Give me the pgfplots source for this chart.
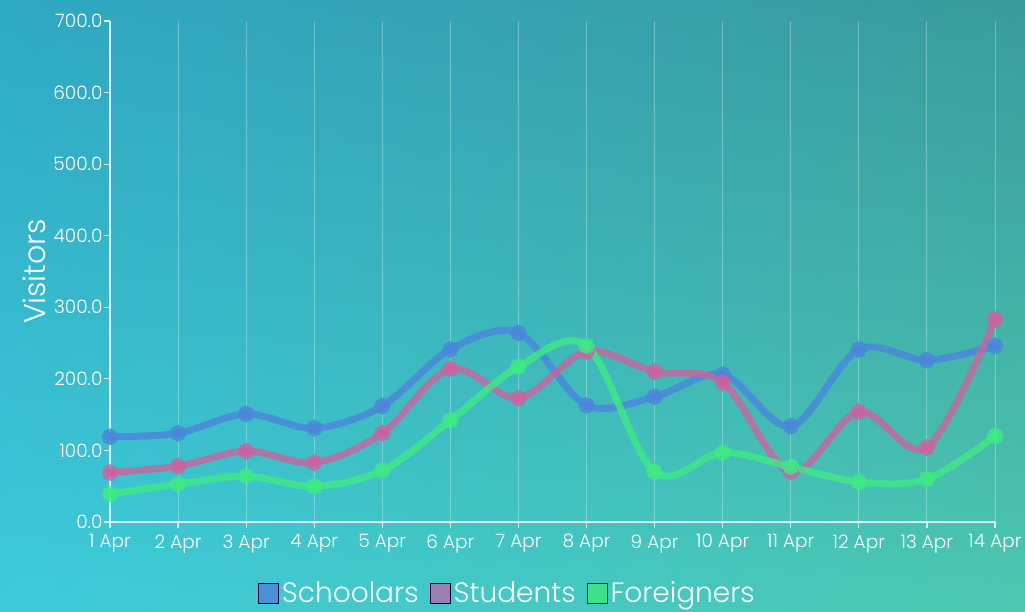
\documentclass[border=0pt]{standalone}
\usepackage{pgfplots}
\pgfplotsset{compat=1.18}
\usetikzlibrary{shadings}
\usepackage{fontspec}
\setmainfont{Poppins}[UprightFont=*-Light]
\pgfdeclarelayer{background}
\pgfsetlayers{background,main}
\definecolor{cTL}{HTML}{2FA8C4}
\definecolor{cTR}{HTML}{3A9B9C}
\definecolor{cBL}{HTML}{3CCBDB}
\definecolor{cBR}{HTML}{4CC8B0}
\definecolor{lblue}{HTML}{4A88DA}
\definecolor{mblue}{HTML}{4A7FE0}
\definecolor{lpink}{HTML}{C8659F}
\definecolor{mpink}{HTML}{E0509E}
\definecolor{lgreen}{HTML}{3FEA86}
\definecolor{mgreen}{HTML}{3CF07A}
\definecolor{legblue}{HTML}{4A90D9}
\definecolor{legpurple}{HTML}{9B7FB0}
\definecolor{leggreen}{HTML}{3FE08C}
\begin{document}
\begin{tikzpicture}
\begin{axis}[
  scale only axis,
  width=885pt, height=501pt,
  xmin=0, xmax=13, ymin=0, ymax=700,
  xtick={0,...,13},
  xticklabels={1 Apr,2 Apr,3 Apr,4 Apr,5 Apr,6 Apr,7 Apr,8 Apr,9 Apr,10 Apr,11 Apr,12 Apr,13 Apr,14 Apr},
  ytick={0,100,...,700},
  ticklabel style={font=\fontsize{18.5}{21}\selectfont, text=white},
  xticklabel style={yshift=-3pt},
  yticklabel style={xshift=2pt, /pgf/number format/.cd,fixed,fixed zerofill,precision=1,1000 sep={},assume math mode=true},
  axis x line*=bottom, axis y line*=left,
  axis line style={white!85!cyan, line width=1.6pt, -},
  tick style={white!85!cyan, line width=1.2pt},
  major tick length=6pt,
  tick align=outside,
  xtick pos=bottom, ytick pos=left,
  xmajorgrids=true, ymajorgrids=false,
  grid style={white, opacity=0.3, line width=0.9pt},
  ylabel={Visitors},
  ylabel style={font=\fontsize{30}{34}\selectfont, text=white, at={(axis description cs:-0.085,0.5)}, anchor=center},
  legend columns=3,
  legend style={at={(axis description cs:0.449,-0.142)}, anchor=center, draw=none, fill=none,
    font=\fontsize{28}{32}\selectfont, text=white,
    /tikz/every even column/.append style={column sep=9pt},
    /tikz/every odd column/.append style={column sep=1pt}},
  legend cell align=left,
  clip=false,
]
\addplot[lblue, opacity=0.85, line width=7pt, smooth, tension=0.55, mark=*, mark size=4.6pt, mark options={fill=mblue, draw=none}, forget plot]
coordinates {(0,119)(1,124)(2,151)(3,131)(4,162)(5,241)(6,264)(7,163)(8,175)(9,206)(10,134)(11,241)(12,226)(13,246)};
\addplot[lpink, opacity=0.8, line width=7pt, smooth, tension=0.55, mark=*, mark size=4.6pt, mark options={fill=mpink, draw=none}, forget plot]
coordinates {(0,69)(1,78)(2,99)(3,83)(4,124)(5,214)(6,173)(7,238)(8,210)(9,195)(10,70)(11,154)(12,104)(13,283)};
\addplot[lgreen, opacity=0.8, line width=7pt, smooth, tension=0.55, mark=*, mark size=4.6pt, mark options={fill=mgreen, draw=none}, forget plot]
coordinates {(0,39)(1,53)(2,64)(3,50)(4,72)(5,142)(6,217)(7,246)(8,70)(9,97)(10,77)(11,56)(12,60)(13,120)};
\addlegendimage{legend image code/.code={\draw[fill=legblue, draw=black!75!blue, line width=1pt] (0pt,-10pt) rectangle (20pt,10pt);}}
\addlegendentry{Schoolars}
\addlegendimage{legend image code/.code={\draw[fill=legpurple, draw=black!75!blue, line width=1pt] (0pt,-10pt) rectangle (20pt,10pt);}}
\addlegendentry{Students}
\addlegendimage{legend image code/.code={\draw[fill=leggreen, draw=black!75!green, line width=1pt] (0pt,-10pt) rectangle (20pt,10pt);}}
\addlegendentry{Foreigners}
\end{axis}
\begin{pgfonlayer}{background}
\shade[upper left=cTL, upper right=cTR, lower left=cBL, lower right=cBR]
  ([shift={(-110pt,-90pt)}]current axis.south west) rectangle ([shift={(30pt,21pt)}]current axis.north east);
\end{pgfonlayer}
\pgfresetboundingbox
\path ([shift={(-110pt,-90pt)}]current axis.south west) rectangle ([shift={(30pt,21pt)}]current axis.north east);
\end{tikzpicture}
\end{document}
